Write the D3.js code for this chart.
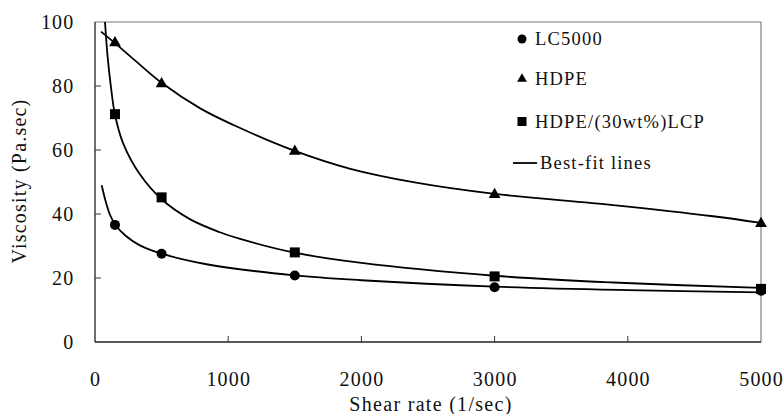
<!DOCTYPE html>
<html>
<head>
<meta charset="utf-8">
<script src="https://cdn.jsdelivr.net/npm/d3@7"></script>
<style>
  body { margin: 0; background: #fff; }
  text { font-family: "Liberation Serif", "Times New Roman", serif; fill: #111; }
</style>
</head>
<body>
<div id="chart"></div>
<script>
// measured points
var shearRates = [150, 500, 1500, 3000, 5000];
var lc5000 = [36.6, 27.6, 20.8, 17.1, 16.0];
var hdpe = [93.5, 80.7, 59.6, 46.1, 37.0];
var hdpeLcp = [71.2, 45.2, 28.0, 20.5, 16.6];

// best-fit curves
var fitHdpeX = [45, 150, 300, 500, 790, 1040, 1500, 1910, 2410, 3000, 3890, 4640, 5000];
var fitHdpeY = [97, 93.4, 88, 81, 73, 67.8, 59.7, 54.2, 49.8, 46.3, 42.8, 39.3, 37.2];
var fitLcpX = [75, 95, 118, 150, 212, 337, 500, 712, 937, 1090, 1500, 2000, 3000, 3890, 5000];
var fitLcpY = [100, 89, 80.3, 71, 62, 52.4, 44.6, 38.4, 34.3, 32.2, 27.9, 24.7, 20.7, 18.6, 16.9];
var fitLcX = [50, 80, 110, 150, 230, 337, 500, 837, 1500, 2000, 3000, 4000, 5000];
var fitLcY = [49, 44, 40, 36.8, 33.2, 30.2, 27.6, 24.3, 20.8, 19.3, 17.3, 16.2, 15.5];

var xTicks = [0, 1000, 2000, 3000, 4000, 5000];
var yTicks = [0, 20, 40, 60, 80, 100];
var legendLabels = ["LC5000", "HDPE", "HDPE/(30wt%)LCP", "Best-fit lines"];

var width = 784, height = 414;
var svg = d3.select("#chart").append("svg")
    .attr("width", width)
    .attr("height", height);

var x = d3.scaleLinear().domain([0, 5000]).range([95, 761]);
var y = d3.scaleLinear().domain([0, 100]).range([342, 22]);

// frame: top and right light
svg.append("line").attr("x1", 95).attr("x2", 761).attr("y1", 22).attr("y2", 22)
    .attr("stroke", "#777").attr("stroke-width", 1);
svg.append("line").attr("x1", 761).attr("x2", 761).attr("y1", 22).attr("y2", 342)
    .attr("stroke", "#666").attr("stroke-width", 1);

// axes
svg.append("line").attr("x1", 95).attr("x2", 761).attr("y1", 342).attr("y2", 342)
    .attr("stroke", "#222").attr("stroke-width", 1.3);
svg.append("line").attr("x1", 95).attr("x2", 95).attr("y1", 22).attr("y2", 342)
    .attr("stroke", "#222").attr("stroke-width", 1.3);

svg.selectAll(".xtick").data(xTicks.slice(1, 5)).enter().append("line")
    .attr("x1", function (d) { return x(d); })
    .attr("x2", function (d) { return x(d); })
    .attr("y1", 342).attr("y2", 336)
    .attr("stroke", "#333");
svg.selectAll(".ytick").data(yTicks.slice(1, 5)).enter().append("line")
    .attr("x1", 95).attr("x2", 101)
    .attr("y1", function (d) { return y(d); })
    .attr("y2", function (d) { return y(d); })
    .attr("stroke", "#333");

svg.selectAll(".xlab").data(xTicks).enter().append("text")
    .attr("x", function (d) { return x(d) + 0.6; })
    .attr("y", 386)
    .attr("text-anchor", "middle")
    .attr("font-size", 20)
    .attr("letter-spacing", 1.2)
    .text(function (d) { return d; });
svg.selectAll(".ylab").data(yTicks).enter().append("text")
    .attr("x", 74.5)
    .attr("y", function (d) { return y(d) + 7; })
    .attr("text-anchor", "end")
    .attr("font-size", 20)
    .attr("letter-spacing", 1.2)
    .text(function (d) { return d; });

svg.append("text")
    .attr("x", 431).attr("y", 411)
    .attr("text-anchor", "middle")
    .attr("font-size", 20)
    .attr("letter-spacing", 1.3)
    .text("Shear rate (1/sec)");
svg.append("text")
    .attr("transform", "translate(26,181) rotate(-90)")
    .attr("text-anchor", "middle")
    .attr("font-size", 20)
    .attr("letter-spacing", 1.2)
    .text("Viscosity (Pa.sec)");

// fit lines
var line = d3.line()
    .x(function (d) { return x(d[0]); })
    .y(function (d) { return y(d[1]); })
    .curve(d3.curveCatmullRom.alpha(0.5));

[[fitHdpeX, fitHdpeY], [fitLcpX, fitLcpY], [fitLcX, fitLcY]].forEach(function (f) {
    var pts = f[0].map(function (v, i) { return [v, f[1][i]]; });
    svg.append("path")
        .attr("d", line(pts))
        .attr("fill", "none")
        .attr("stroke", "#000")
        .attr("stroke-width", 1.8);
});

// markers
var tri = d3.symbol().type(d3.symbolTriangle).size(60);
svg.selectAll(".lc").data(lc5000).enter().append("circle")
    .attr("cx", function (d, i) { return x(shearRates[i]); })
    .attr("cy", function (d) { return y(d); })
    .attr("r", 5)
    .attr("fill", "#000");
svg.selectAll(".hd").data(hdpe).enter().append("path")
    .attr("d", tri)
    .attr("transform", function (d, i) { return "translate(" + x(shearRates[i]) + "," + y(d) + ")"; })
    .attr("fill", "#000");
svg.selectAll(".lcp").data(hdpeLcp).enter().append("rect")
    .attr("x", function (d, i) { return x(shearRates[i]) - 5; })
    .attr("y", function (d) { return y(d) - 5; })
    .attr("width", 10).attr("height", 10)
    .attr("fill", "#000");

// legend
var lg = svg.append("g");
lg.append("circle").attr("cx", 522).attr("cy", 39).attr("r", 4.5).attr("fill", "#000");
lg.append("path").attr("d", d3.symbol().type(d3.symbolTriangle).size(42))
    .attr("transform", "translate(522,79)").attr("fill", "#000");
lg.append("rect").attr("x", 517.5).attr("y", 117).attr("width", 9).attr("height", 9).attr("fill", "#000");
lg.append("line").attr("x1", 513).attr("x2", 537).attr("y1", 163).attr("y2", 163)
    .attr("stroke", "#000").attr("stroke-width", 1.8);
var legendPos = [[535, 39], [535, 79], [535, 122], [540, 163]];
lg.selectAll("text").data(legendLabels).enter().append("text")
    .attr("x", function (d, i) { return legendPos[i][0]; })
    .attr("y", function (d, i) { return legendPos[i][1] + 6; })
    .attr("font-size", 18.5)
    .attr("letter-spacing", 1.2)
    .text(function (d) { return d; });
</script>
</body>
</html>
